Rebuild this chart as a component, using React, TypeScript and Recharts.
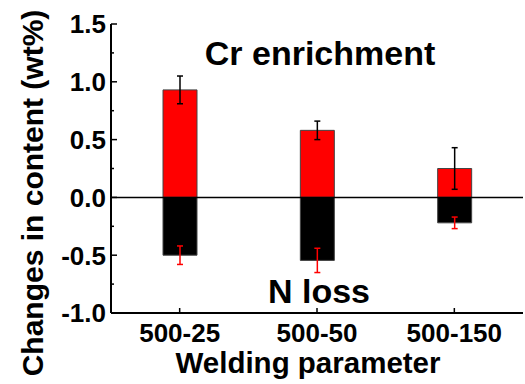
import React from "react";
import {
  BarChart,
  Bar,
  XAxis,
  YAxis,
  ErrorBar,
  ReferenceLine,
  Customized,
} from "recharts";

const categories = ["500-25", "500-50", "500-150"];
const crEnrichment = [0.93, 0.58, 0.25];
const crError = [0.12, 0.08, 0.18];
const nLoss = [-0.5, -0.545, -0.22];
const nError = [0.08, 0.105, 0.05];
const yTicks = [-1, -0.75, -0.5, -0.25, 0, 0.25, 0.5, 0.75, 1, 1.25, 1.5];

const data = categories.map((c, i) => ({
  name: c,
  cr: crEnrichment[i],
  crErr: crError[i],
  n: nLoss[i],
  nErr: nError[i],
}));

const FONT = "'Liberation Sans', Arial, Helvetica, sans-serif";

const YTick = (props: any) => {
  const { x, y, payload } = props;
  const v = payload.value as number;
  const major = Math.abs(v * 2 - Math.round(v * 2)) < 1e-6;
  return (
    <g>
      <line x1={x} x2={x + (major ? 6 : 3)} y1={y} y2={y} stroke="#000" strokeWidth={1.5} />
      {major && (
        <text
          x={x - 5}
          y={y}
          dy="0.36em"
          textAnchor="end"
          fontFamily={FONT}
          fontWeight="bold"
          fontSize={26}
          fill="#000"
        >
          {v.toFixed(1)}
        </text>
      )}
    </g>
  );
};

const XTick = (props: any) => {
  const { x, y, payload } = props;
  return (
    <g>
      <line x1={x} x2={x} y1={y} y2={y - 5} stroke="#000" strokeWidth={1.5} />
      <text
        x={x}
        y={y + 29}
        textAnchor="middle"
        fontFamily={FONT}
        fontWeight="bold"
        fontSize={26}
        fill="#000"
      >
        {payload.value}
      </text>
    </g>
  );
};

const Texts = () => (
  <g fontFamily={FONT} fontWeight="bold" fill="#000">
    <text x={320} y={65} textAnchor="middle" fontSize={34}>
      Cr enrichment
    </text>
    <text x={319} y={303} textAnchor="middle" fontSize={34}>
      N loss
    </text>
    <text x={308} y={373} textAnchor="middle" fontSize={29.5}>
      Welding parameter
    </text>
    <text x={43} y={193} textAnchor="middle" fontSize={30} transform="rotate(-90 43 193)">
      Changes in content (wt%)
    </text>
  </g>
);

export default function App() {
  return (
    <div style={{ position: "absolute", left: 0, top: 0, background: "#fff" }}>
      <BarChart
        width={525}
        height={384}
        data={data}
        stackOffset="sign"
        margin={{ top: 24, right: 2, bottom: 0, left: 0 }}
      >
        <XAxis
          dataKey="name"
          height={71}
          axisLine={{ stroke: "#000", strokeWidth: 2 }}
          tickLine={false}
          tickSize={0}
          tickMargin={0}
          tick={<XTick />}
          interval={0}
        />
        <XAxis
          xAxisId="top"
          orientation="top"
          dataKey="name"
          height={0}
          tick={false}
          tickLine={false}
          axisLine={{ stroke: "#222", strokeWidth: 2 }}
        />
        <YAxis
          width={111}
          domain={[-1, 1.5]}
          ticks={yTicks}
          interval={0}
          type="number"
          allowDataOverflow
          axisLine={{ stroke: "#000", strokeWidth: 2 }}
          tickLine={false}
          tickSize={0}
          tickMargin={0}
          tick={<YTick />}
        />
        <YAxis
          yAxisId="right"
          orientation="right"
          width={0}
          domain={[-1, 1.5]}
          tick={false}
          tickLine={false}
          axisLine={{ stroke: "#222", strokeWidth: 2 }}
        />
        <ReferenceLine y={0} stroke="#000" strokeWidth={1.5} />
        <Bar
          dataKey="cr"
          stackId="s"
          fill="#ff0000"
          stroke="#444"
          strokeWidth={1}
          barSize={34}
          isAnimationActive={false}
        >
          <ErrorBar dataKey="crErr" width={3} stroke="#000" strokeWidth={1.5} direction="y" />
        </Bar>
        <Bar
          dataKey="n"
          stackId="s"
          fill="#000000"
          stroke="#444"
          strokeWidth={1}
          barSize={34}
          isAnimationActive={false}
        >
          <ErrorBar dataKey="nErr" width={3} stroke="#ff0000" strokeWidth={1.5} direction="y" />
        </Bar>
        <Customized component={Texts} />
      </BarChart>
    </div>
  );
}
